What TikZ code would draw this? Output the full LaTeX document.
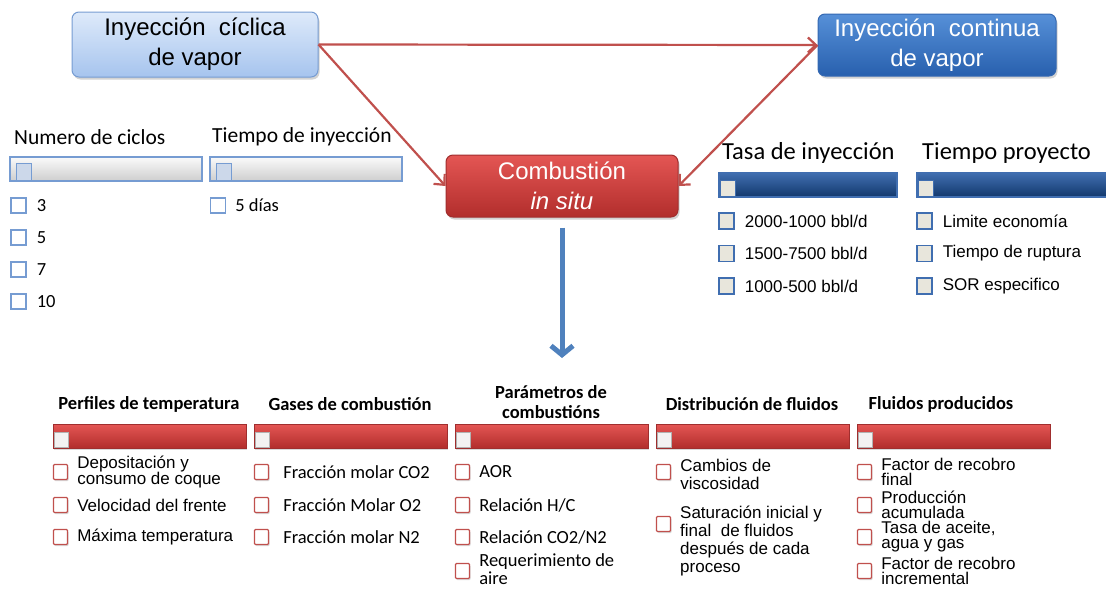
\documentclass[tikz,border=0pt]{standalone}
\usepackage{fontspec}
\setmainfont{Liberation Sans}
\newfontfamily\calfont{Carlito}
\usetikzlibrary{positioning,shadows,arrows.meta}

\definecolor{rojoflecha}{RGB}{192,80,77}
\definecolor{azulflecha}{RGB}{79,129,189}
\definecolor{azulclaroA}{RGB}{222,234,250}
\definecolor{azulclaroB}{RGB}{166,196,238}
\definecolor{bordeclaro}{RGB}{118,156,210}
\definecolor{azulA}{RGB}{86,144,216}
\definecolor{azulB}{RGB}{40,96,174}
\definecolor{bordeazul}{RGB}{52,104,178}
\definecolor{rojoA}{RGB}{228,86,84}
\definecolor{rojoB}{RGB}{178,46,44}
\definecolor{bordero}{RGB}{160,46,46}
\definecolor{azulosc}{RGB}{18,56,108}
\definecolor{azulmed}{RGB}{64,110,176}
\definecolor{grisclaro}{RGB}{250,250,250}
\definecolor{grisosc}{RGB}{206,206,206}
\definecolor{pulgarazul}{RGB}{204,216,234}
\definecolor{casgris}{RGB}{232,230,220}

\tikzset{
  caja/.style={rounded corners=7pt, align=center, inner sep=0pt, line width=1pt,
    font=\fontsize{24}{30}\selectfont,
    drop shadow={opacity=0.35,shadow xshift=1.5pt,shadow yshift=-2.5pt}},
  cajaclara/.style={caja, draw=bordeclaro, top color=azulclaroA, bottom color=azulclaroB,
    minimum width=246pt, minimum height=65pt},
  cajaazul/.style={caja, draw=bordeazul, top color=azulA, bottom color=azulB, text=white,
    minimum width=238pt, minimum height=62pt},
  cajaroja/.style={caja, draw=bordero, top color=rojoA, bottom color=rojoB, text=white,
    minimum width=232pt, minimum height=62pt},
  flecharoja/.style={draw=rojoflecha, line width=2.2pt, -{Straight Barb[length=8pt,width=15pt]}},
  flechaazul/.style={draw=azulflecha, line width=5pt, -{Straight Barb[length=9pt,width=22pt]}},
  titizq/.style={font=\calfont\fontsize{21.5}{24}\selectfont, inner sep=0pt, anchor=west},
  titder/.style={font=\calfont\fontsize{24.5}{26}\selectfont, inner sep=0pt, anchor=west},
  titabajo/.style={font=\calfont\bfseries\fontsize{18.5}{20}\selectfont, inner sep=0pt, align=center},
  itemcal/.style={font=\calfont\fontsize{18.5}{19}\selectfont, inner sep=0pt, align=left},
  itemarial/.style={font=\fontsize{17}{18}\selectfont, inner sep=0pt, align=left},
  itemapretado/.style={font=\fontsize{17}{15}\selectfont, inner sep=0pt, align=left},
  casillaazul/.style={draw=bordeclaro, fill=white, line width=1.2pt, minimum size=15pt, inner sep=0pt},
  casillagris/.style={draw=azulmed, fill=casgris, line width=1.2pt, minimum width=15pt, minimum height=16pt, inner sep=0pt},
  casillaroja/.style={draw=rojoflecha, fill=white, line width=1.2pt, minimum width=14pt, minimum height=15pt,
    inner sep=0pt, rounded corners=1pt, drop shadow={opacity=0.3,shadow xshift=1pt,shadow yshift=-1.5pt}},
  barraclara/.style={draw=bordeclaro, line width=1.2pt, top color=grisclaro, bottom color=grisosc},
  barraazul/.style={draw=azulmed, line width=1.2pt, top color=azulmed, bottom color=azulosc},
  barraroja/.style={draw=bordero, line width=0.8pt, top color=rojoA, bottom color=rojoB,
    drop shadow={opacity=0.3,shadow xshift=1pt,shadow yshift=-2pt}},
  pulgarclaro/.style={draw=bordeclaro, line width=1pt, fill=pulgarazul},
  pulgargris/.style={draw=azulmed, line width=0.8pt, fill=casgris},
  pulgarrojo/.style={draw=gray!60, line width=0.6pt, fill=red!4!gray!10}
}

\begin{document}
\begin{tikzpicture}[x=1pt,y=-1pt]
\useasboundingbox (0,0) rectangle (1106,589);

% Procesos
\node[cajaclara] (ciclica) at (195,44.5) {Inyección\ \ cíclica\\de vapor};
\node[cajaazul] (continua) at (937,45) {Inyección\ \ continua\\de vapor};
\node[cajaroja] (combustion) at (562,186) {Combustión\\\textit{in situ}};

\draw[flecharoja] (ciclica.east) -- (continua.west);
\draw[flecharoja] (ciclica.east) -- (combustion.west);
\draw[flecharoja] (continua.west) -- (combustion.east);

\coordinate (salida) at (562,358);
\draw[flechaazul] ([yshift=-10pt]combustion.south) -- (salida);

% Inyeccion ciclica
\node[titizq] (numciclos) at (14,137) {Numero de ciclos};
\node[titizq] (tiempoiny) at (212,137) {Tiempo de inyección};
\foreach \x in {10,210}{
  \draw[barraclara] (\x,157) rectangle ++(192,24);
  \draw[pulgarclaro] (\x+6,163) rectangle ++(15,17);
}
\foreach \n [count=\i] in {3,5,7,10}{
  \node[casillaazul] (ciclo\i) at (18.5,173.5+32*\i) {};
  \node[itemcal, right=10pt of ciclo\i] {\n};
}
\node[casillaazul] (dias) at (218,205.5) {};
\node[itemcal, right=9pt of dias] {5 días};

% Inyeccion continua
\node[titder] (tasa) at (722,153) {Tasa de inyección};
\node[titder] (proyecto) at (922,153) {Tiempo proyecto};
\draw[barraazul] (719,173) rectangle ++(178,24);
\draw[barraazul] (917,173) rectangle ++(192,24);
\foreach \x in {720,918}
  \draw[pulgargris] (\x,180) rectangle ++(15,16);
\foreach \t [count=\i] in {{2000-1000 bbl/d},{1500-7500 bbl/d},{1000-500 bbl/d}}{
  \node[casillagris] (tasa\i) at (726.5,188.5+32.5*\i) {};
  \node[itemarial, right=10pt of tasa\i] {\t};
}
\foreach \t [count=\i] in {{Limite economía},{Tiempo de ruptura},{SOR especifico}}{
  \node[casillagris] (proy\i) at (924.5,188.5+32.5*\i) {};
  \node[itemarial, right=10pt of proy\i] {\t};
}

% Combustion in situ
\node[titabajo] (perfiles) at (149,404) {Perfiles de temperatura};
\node[titabajo] (gases) at (350,404) {Gases de combustión};
\node[titabajo] (parametros) at (551,402) {Parámetros de\\combustións};
\node[titabajo] (distribucion) at (752,404) {Distribución de fluidos};
\node[titabajo] (producidos) at (941,404) {Fluidos producidos};
\foreach \x in {53,254,455,656,857}{
  \draw[barraroja] (\x,424) rectangle ++(193,24);
  \draw[pulgarrojo] (\x+1,432) rectangle ++(14,15);
}

\foreach \y/\t [count=\i] in {472/{Depositación y\\consumo de coque},505/{Velocidad del frente},537/{Máxima temperatura}}{
  \node[casillaroja] (temp\i) at (60.5,\y) {};
  \node[itemapretado, right=9pt of temp\i] {\t};
}
\foreach \y/\t [count=\i] in {472/{Fracción molar CO2},505/{Fracción Molar O2},537/{Fracción molar N2}}{
  \node[casillaroja] (gas\i) at (261.5,\y) {};
  \node[itemcal, right=14pt of gas\i] {\t};
}
\foreach \y/\t [count=\i] in {472/{AOR},505/{Relación H/C},537/{Relación CO2/N2}}{
  \node[casillaroja] (par\i) at (462.5,\y) {};
  \node[itemcal, right=9pt of par\i] {\t};
}
\node[casillaroja] (par4) at (462.5,571) {};
\node[itemcal, right=9pt of par4, yshift=2pt, font=\calfont\fontsize{18.5}{18}\selectfont] {Requerimiento de\\aire};
\node[casillaroja] (dis1) at (663.5,472) {};
\node[itemarial, right=9pt of dis1, yshift=-2pt] {Cambios de\\viscosidad};
\node[casillaroja] (dis2) at (663.5,524) {};
\node[itemarial, anchor=west] (dis2t) at (680,541) {Saturación inicial y\\final\ \ de fluidos\\después de cada\\proceso};
\foreach \y/\t [count=\i] in {472/{Factor de recobro\\final},505/{Producción\\acumulada},537/{Tasa de aceite,\\agua y gas},571/{Factor de recobro\\incremental}}{
  \node[casillaroja] (flu\i) at (864.5,\y) {};
  \node[itemapretado, right=9pt of flu\i] {\t};
}

\end{tikzpicture}
\end{document}
